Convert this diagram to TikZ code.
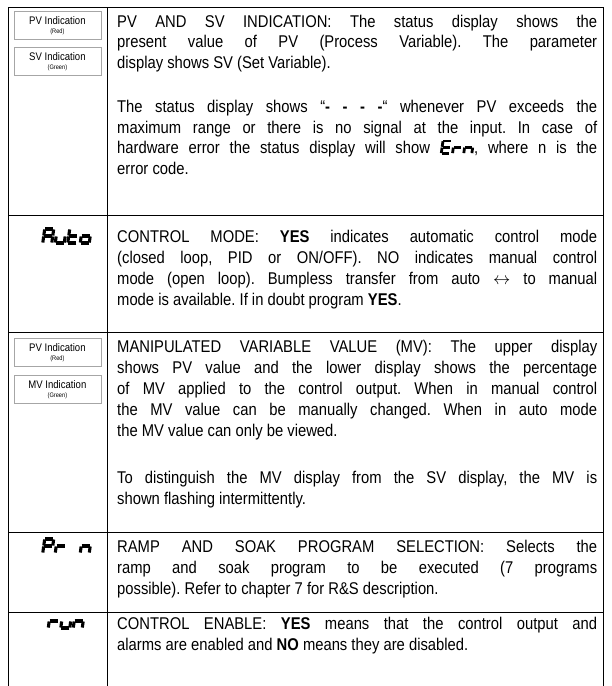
\documentclass[tikz,border=0pt]{standalone}
\usepackage{fontspec}
\setmainfont[FakeStretch=0.87]{Liberation Sans}
\makeatletter
\newcommand\segglyph[1]{%
  \foreach \n/\xa/\ya/\xb/\yb in {a/0/14/9/14,b/9/14/9/7,c/9/7/9/0,d/9/0/0/0,e/0/0/0/7,f/0/7/0/14,g/0/7/9/7}{%
    \edef\sg@tmp{\noexpand\in@{\n}{#1}}\sg@tmp
    \ifin@\draw[segline] (\xa,\ya) -- (\xb,\yb);\fi}}
\makeatother
\newcommand\segword[2][1]{\begin{tikzpicture}[x=#1pt,y=#1pt,baseline=0pt,xslant=0.14,
  segline/.style={line width=#1*3.1pt,shorten <=#1*0.45pt,shorten >=#1*0.45pt}]
  \foreach \c [count=\i from 0] in {#2}{\begin{scope}[xshift=\i*12.5*#1 pt]\segglyph{\c}\end{scope}}
\end{tikzpicture}}
\newcommand\jl[1]{\makebox[480pt][s]{#1}}
\begin{document}
\frenchspacing
\begin{tikzpicture}[x=1pt,y=-1pt,
  rule/.style={line width=1pt,black},
  txt/.style={inner sep=0pt,anchor=base west,font=\fontsize{17}{20}\selectfont\frenchspacing},
  ind/.style={draw=gray!70,line width=0.8pt,minimum width=87pt,minimum height=28pt,inner sep=0pt,anchor=north west},
  indt/.style={inner sep=0pt,font=\fontsize{11}{12}\selectfont},
  inds/.style={inner sep=0pt,font=\fontsize{6.5}{7}\selectfont},
  glyph/.style={inner sep=0pt,anchor=base west}]
\useasboundingbox (0,0) rectangle (612,686);
% table rules
\coordinate (tl) at (8.5,7);
\coordinate (tr) at (603.5,7);
\coordinate (bl) at (8.5,686);
\coordinate (br) at (603.5,686);
\coordinate (dt) at (107,7);
\coordinate (db) at (107,686);
\draw[rule] (tl) -- (tr);
\draw[rule] (tl) -- (bl);
\draw[rule] (tr) -- (br);
\draw[rule] (dt) -- (db);
\foreach \yy/\nm in {215/s1,332/s2,532/s3,612/s4}{
  \coordinate (\nm a) at (8.5,\yy);
  \coordinate (\nm b) at (603.5,\yy);
  \draw[rule] (\nm a) -- (\nm b);
}
% row 1 left boxes
\node[ind] (b1) at (13.5,11) {};
\node[indt] (b1t) at ([yshift=-10pt]b1.north) {PV Indication};
\node[inds] (b1s) at ([yshift=-21pt]b1.north) {(Red)};
\node[ind] (b2) at (13.5,47) {};
\node[indt] (b2t) at ([yshift=-10pt]b2.north) {SV Indication};
\node[inds] (b2s) at ([yshift=-21pt]b2.north) {(Green)};
% row 3 left boxes
\node[ind] (b3) at (13.5,338) {};
\node[indt] (b3t) at ([yshift=-10pt]b3.north) {PV Indication};
\node[inds] (b3s) at ([yshift=-21pt]b3.north) {(Red)};
\node[ind] (b4) at (13.5,375) {};
\node[indt] (b4t) at ([yshift=-10pt]b4.north) {MV Indication};
\node[inds] (b4s) at ([yshift=-21pt]b4.north) {(Green)};
% segment words
\node[glyph] (auto) at (41,243) {\segword{abcefg,cde,defg,cdeg}};
\node[glyph] (prn) at (41,553) {\segword{abefg,eg,x,ceg}};
\node[glyph] (run) at (46.5,628) {\segword{eg,cde,ceg}};
% row 1 text
\node[txt] (r1a) at (117,27) {\jl{PV AND SV INDICATION: The status display shows the}};
\node[txt] (r1b) at (117,47.5) {\jl{present value of PV (Process Variable). The parameter}};
\node[txt] (r1c) at (117,68) {display shows SV (Set Variable).};
\node[txt] (r1d) at (117,112) {\jl{The status display shows “\textbf{- - - -}“ whenever PV exceeds the}};
\node[txt] (r1e) at (117,133) {\jl{maximum range or there is no signal at the input. In case of}};
\node[txt] (r1f) at (117,153.5) {\jl{hardware error the status display will show \segword[0.9]{adefg,eg,ceg}, where n is the}};
\node[txt] (r1g) at (117,174) {error code.};
% row 2 text
\node[txt] (r2a) at (117,242) {\jl{CONTROL MODE: \textbf{YES} indicates automatic control mode}};
\node[txt] (r2b) at (117,263) {\jl{(closed loop, PID or ON/OFF). NO indicates manual control}};
\node[txt] (r2c) at (117,284) {\jl{mode (open loop). Bumpless transfer from auto $\leftrightarrow$ to manual}};
\node[txt] (r2d) at (117,305) {mode is available. If in doubt program \textbf{YES}.};
% row 3 text
\node[txt] (r3a) at (117,352) {\jl{MANIPULATED VARIABLE VALUE (MV): The upper display}};
\node[txt] (r3b) at (117,373) {\jl{shows PV value and the lower display shows the percentage}};
\node[txt] (r3c) at (117,394) {\jl{of MV applied to the control output. When in manual control}};
\node[txt] (r3d) at (117,415) {\jl{the MV value can be manually changed. When in auto mode}};
\node[txt] (r3e) at (117,436) {the MV value can only be viewed.};
\node[txt] (r3f) at (117,483) {\jl{To distinguish the MV display from the SV display, the MV is}};
\node[txt] (r3g) at (117,504) {shown flashing intermittently.};
% row 4 text
\node[txt] (r4a) at (117,552) {\jl{RAMP AND SOAK PROGRAM SELECTION: Selects the}};
\node[txt] (r4b) at (117,573) {\jl{ramp and soak program to be executed (7 programs}};
\node[txt] (r4c) at (117,594) {possible). Refer to chapter 7 for R\&S description.};
% row 5 text
\node[txt] (r5a) at (117,629) {\jl{CONTROL ENABLE: \textbf{YES} means that the control output and}};
\node[txt] (r5b) at (117,650) {alarms are enabled and \textbf{NO} means they are disabled.};
\end{tikzpicture}
\end{document}
